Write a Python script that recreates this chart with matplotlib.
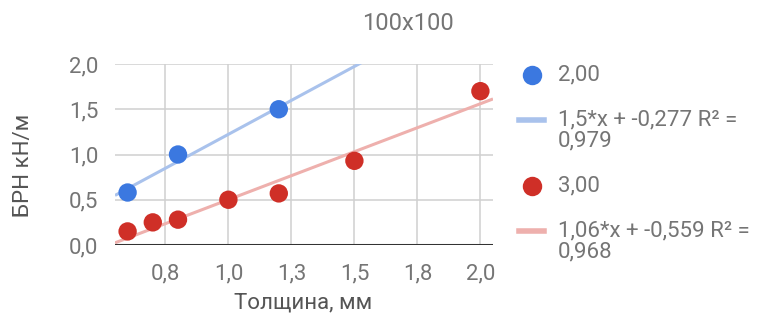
import matplotlib
matplotlib.use("Agg")
import matplotlib.pyplot as plt
import numpy as np
from matplotlib.lines import Line2D

plt.rcParams['font.family'] = ['Roboto', 'DejaVu Sans']

# Measured series
x_2mm = [0.6, 0.8, 1.2]
y_2mm = [0.58, 1.0, 1.5]
x_3mm = [0.6, 0.7, 0.8, 1.0, 1.2, 1.5, 2.0]
y_3mm = [0.15, 0.25, 0.28, 0.5, 0.57, 0.93, 1.7]

series_names = ["2,00", "3,00"]
slopes = [1.5, 1.06]
intercepts = [-0.277, -0.559]
r_squared = [0.979, 0.968]

x_ticks = [0.75, 1.0, 1.25, 1.5, 1.75, 2.0]
x_tick_labels = ["0,8", "1,0", "1,3", "1,5", "1,8", "2,0"]
y_ticks = [0.0, 0.5, 1.0, 1.5, 2.0]
y_tick_labels = ["0,0", "0,5", "1,0", "1,5", "2,0"]

title = "100x100"
x_title = "Толщина, мм"
y_title = "БРН кН/м"

W, H = 766, 325
fig = plt.figure(figsize=(W / 100, H / 100), dpi=100)
ax = fig.add_axes([115 / W, (H - 245) / H, (493 - 115) / W, (245 - 64) / H])

point_colors = ["#3b78e0", "#cf2f27"]
trend_colors = ["#a9c2ec", "#eeb0ad"]
tick_color = "#757575"
label_color = "#555555"

xmin, xmax = 0.55, 2.05
ax.set_xlim(xmin, xmax)
ax.set_ylim(0, 2.0)

# trend lines over the full horizontal range
xs = np.array([xmin, xmax])
for k in range(2):
    ax.plot(xs, slopes[k] * xs + intercepts[k], color=trend_colors[k],
            lw=2.2, zorder=2, solid_capstyle='butt')

ax.scatter(x_2mm, y_2mm, s=175, color=point_colors[0], zorder=4,
           edgecolors='none', clip_on=False)
ax.scatter(x_3mm, y_3mm, s=175, color=point_colors[1], zorder=4,
           edgecolors='none', clip_on=False)

# grid and axes styling
for s in ax.spines.values():
    s.set_visible(False)
ax.set_xticks(x_ticks)
ax.set_xticklabels(x_tick_labels)
ax.set_yticks(y_ticks)
ax.set_yticklabels(y_tick_labels)
ax.tick_params(length=0, labelsize=16, colors=tick_color)
ax.tick_params(axis='x', pad=13)
ax.tick_params(axis='y', pad=12)
ax.grid(True, color="#d0d0d0", lw=1.1, zorder=0)
ax.set_axisbelow(True)
ax.axhline(0, color="#333333", lw=2.2, zorder=3)

fig.text(408 / W, 1 - 24 / H, title, ha='center', va='center',
         fontsize=17, color=tick_color)
fig.text(303 / W, 1 - 303 / H, x_title, ha='center', va='center',
         fontsize=16, color=label_color)
fig.text(24 / W, 1 - 165 / H, y_title, ha='center', va='center',
         rotation=90, fontsize=16, color=label_color)

# legend
block = 111
for k in range(2):
    y0 = 75 + k * block
    fig.add_artist(Line2D([532 / W], [1 - y0 / H], marker='o', ms=14,
                          color=point_colors[k], mec='none',
                          transform=fig.transFigure))
    fig.text(558 / W, 1 - y0 / H, series_names[k], ha='left', va='center',
             fontsize=16, color=tick_color)
    y1 = y0 + 45
    fig.add_artist(Line2D([519 / W, 544 / W], [1 - y1 / H, 1 - y1 / H],
                          lw=4, color=trend_colors[k],
                          transform=fig.transFigure))
    slope_txt = f"{slopes[k]:g}".replace('.', ',')
    icpt_txt = f"{intercepts[k]:.3f}".replace('.', ',')
    r2_txt = f"{r_squared[k]:.3f}".replace('.', ',')
    lines = [f"{slope_txt}*x + {icpt_txt} R² =", r2_txt]
    for j, line in enumerate(lines):
        fig.text(558 / W, 1 - (y1 + 21 * j) / H, line, ha='left',
                 va='center', fontsize=16, color=tick_color)

fig.savefig("out.png", dpi=100, facecolor='white')
